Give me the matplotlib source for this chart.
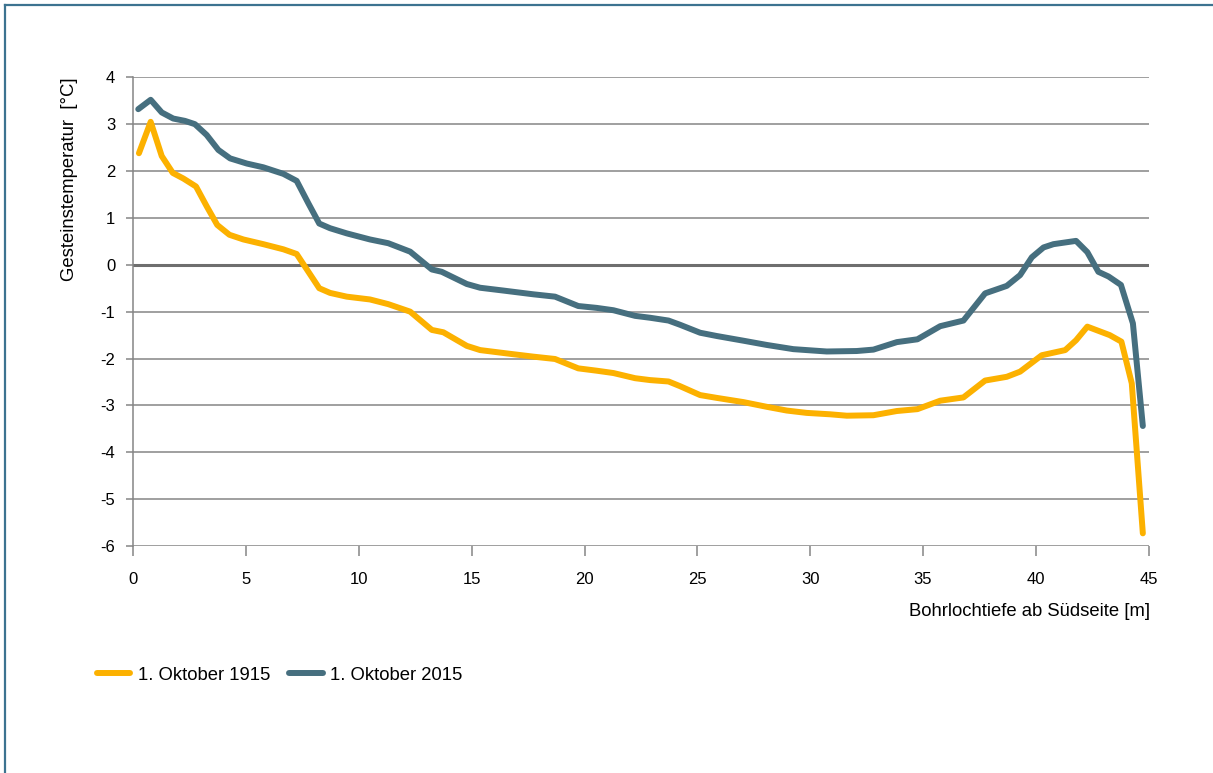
import matplotlib
matplotlib.use("Agg")
import matplotlib.pyplot as plt
from matplotlib.lines import Line2D

plt.rcParams['font.family'] = ['Liberation Sans', 'DejaVu Sans']

# depth [m] and rock temperature [°C]
depth_1915 = [0.25, 0.77, 1.26, 1.75, 2.22, 2.78, 3.25, 3.72, 4.26, 4.88, 5.76, 6.65, 7.24,
              8.24, 8.72, 9.46, 10.49, 11.3, 12.27, 13.23, 13.74, 14.78, 15.37, 16.7, 17.73,
              18.69, 19.72, 20.54, 21.28, 22.24, 22.9, 23.72, 24.23, 25.12, 25.86, 27.04,
              28.07, 28.96, 29.84, 30.88, 31.62, 32.8, 33.84, 34.75, 35.76, 36.79, 37.75,
              38.71, 39.3, 40.26, 41.3, 41.78, 42.28, 43.27, 43.79, 44.25, 44.74]
temp_1915 = [2.38, 3.05, 2.32, 1.96, 1.84, 1.67, 1.25, 0.85, 0.64, 0.54, 0.44, 0.33, 0.23,
             -0.50, -0.60, -0.68, -0.74, -0.84, -1.00, -1.39, -1.44, -1.73, -1.82, -1.90, -1.96,
             -2.01, -2.21, -2.26, -2.31, -2.42, -2.46, -2.49, -2.59, -2.78, -2.84, -2.93,
             -3.03, -3.11, -3.16, -3.19, -3.22, -3.21, -3.12, -3.08, -2.90, -2.83, -2.47,
             -2.39, -2.28, -1.93, -1.82, -1.61, -1.32, -1.50, -1.64, -2.53, -5.73]

depth_2015 = [0.22, 0.77, 1.26, 1.77, 2.29, 2.73, 3.25, 3.77, 4.29, 5.03, 5.76, 6.65, 7.24,
              7.76, 8.24, 8.72, 9.46, 10.49, 11.3, 12.27, 13.23, 13.67, 14.78, 15.37, 16.4,
              17.73, 18.69, 19.72, 20.54, 21.28, 22.24, 22.9, 23.72, 24.23, 25.12, 25.86,
              27.04, 28.07, 29.25, 29.84, 30.73, 32.06, 32.8, 33.32, 33.84, 34.75, 35.76,
              36.79, 37.75, 38.71, 39.3, 39.82, 40.34, 40.78, 41.78, 42.28, 42.77, 43.22,
              43.77, 44.3, 44.74]
temp_2015 = [3.32, 3.52, 3.25, 3.12, 3.07, 3.00, 2.77, 2.45, 2.27, 2.16, 2.08, 1.94, 1.79,
             1.31, 0.88, 0.78, 0.67, 0.54, 0.46, 0.28, -0.10, -0.15, -0.41, -0.49, -0.55,
             -0.63, -0.68, -0.88, -0.92, -0.97, -1.09, -1.13, -1.19, -1.28, -1.45, -1.52,
             -1.62, -1.71, -1.80, -1.82, -1.85, -1.84, -1.81, -1.73, -1.65, -1.59, -1.31,
             -1.19, -0.61, -0.45, -0.22, 0.16, 0.37, 0.44, 0.51, 0.27, -0.15, -0.25,
             -0.43, -1.25, -3.44]

labels = ["1. Oktober 1915", "1. Oktober 2015"]
colors = ["#FCB100", "#466F7F"]
x_ticks = [0, 5, 10, 15, 20, 25, 30, 35, 40, 45]
y_ticks = [4, 3, 2, 1, 0, -1, -2, -3, -4, -5, -6]

W, H = 1213, 773
fig = plt.figure(figsize=(W / 100, H / 100), dpi=100)
fig.patch.set_facecolor("white")

# outer frame (top and left visible)
fig.add_artist(Line2D([5 / W, 5 / W], [0, 1 - 5 / H], color="#3C7390", lw=1.6,
                      transform=fig.transFigure))
fig.add_artist(Line2D([5 / W, 1], [1 - 5 / H, 1 - 5 / H], color="#3C7390", lw=1.6,
                      transform=fig.transFigure))

left, right = 133.3 / W, 1148.7 / W
top, bottom = 1 - 77.3 / H, 1 - 546 / H
ax = fig.add_axes([left, bottom, right - left, top - bottom])

grid_c = "#858585"
for yv in y_ticks:
    if yv == 0:
        ax.axhline(yv, color="#6E6E6E", lw=2.2, zorder=1)
    else:
        ax.axhline(yv, color=grid_c, lw=1.1, zorder=1)

l1, = ax.plot(depth_1915, temp_1915, color=colors[0], lw=4.3, solid_capstyle="round",
              solid_joinstyle="round", zorder=3)
l2, = ax.plot(depth_2015, temp_2015, color=colors[1], lw=4.3, solid_capstyle="round",
              solid_joinstyle="round", zorder=4)

ax.set_xlim(0, 45)
ax.set_ylim(-6, 4)
ax.set_xticks(x_ticks)
ax.set_yticks(y_ticks)
ax.set_yticklabels([str(v) for v in y_ticks])
for s in ["top", "right", "bottom"]:
    ax.spines[s].set_visible(False)
ax.spines["left"].set_color(grid_c)
ax.spines["left"].set_linewidth(1.1)
ax.tick_params(axis="y", direction="out", length=5, width=1.1, color=grid_c,
               labelsize=12, pad=8, labelcolor="black")
ax.tick_params(axis="x", direction="out", length=7, width=1.1, color=grid_c,
               labelsize=12, pad=12, labelcolor="black")

fig.text(70 / W, 1 - 77 / H, "Gesteinstemperatur  [°C]", rotation=90, ha="center",
         va="top", fontsize=13.3)
fig.text(1150 / W, 1 - 612 / H, "Bohrlochtiefe ab Südseite [m]", ha="right",
         va="center", fontsize=13.3)

leg = fig.legend([l1, l2], labels, loc="center left",
                 bbox_to_anchor=(97 / W, 1 - 675 / H), ncol=2, frameon=False,
                 fontsize=13.3, handlelength=1.8, handletextpad=0.4,
                 columnspacing=1.05, borderpad=0, borderaxespad=0)
for h in leg.get_lines():
    h.set_linewidth(4.3)
    h.set_solid_capstyle("round")

fig.savefig("out.png", dpi=100)
